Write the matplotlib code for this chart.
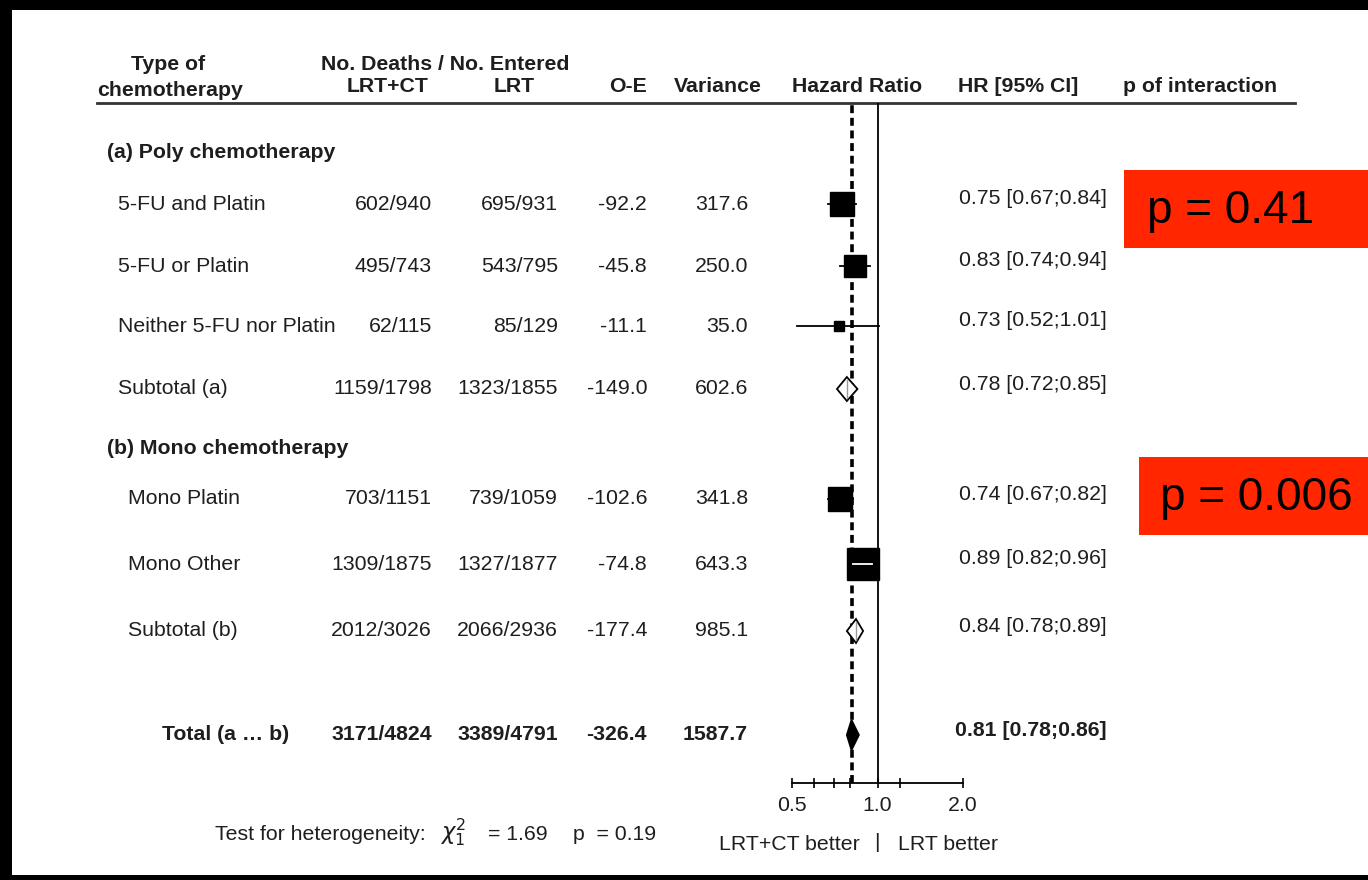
import numpy as np
import matplotlib
matplotlib.use('Agg')
import matplotlib.pyplot as plt
from matplotlib.patches import Rectangle, Polygon
from matplotlib.ticker import FixedLocator, NullFormatter

plt.rcParams['font.family'] = ['Liberation Sans', 'DejaVu Sans']

# table data
labels = ['5-FU and Platin', '5-FU or Platin', 'Neither 5-FU nor Platin', 'Subtotal (a)',
          'Mono Platin', 'Mono Other', 'Subtotal (b)', 'Total (a \u2026 b)']
group = ['a', 'a', 'a', 'a', 'b', 'b', 'b', 'total']
kind = ['box', 'box', 'box', 'sub', 'box', 'box', 'sub', 'total']
lrtct = ['602/940', '495/743', '62/115', '1159/1798', '703/1151', '1309/1875', '2012/3026', '3171/4824']
lrt = ['695/931', '543/795', '85/129', '1323/1855', '739/1059', '1327/1877', '2066/2936', '3389/4791']
oe = [-92.2, -45.8, -11.1, -149.0, -102.6, -74.8, -177.4, -326.4]
variance = [317.6, 250.0, 35.0, 602.6, 341.8, 643.3, 985.1, 1587.7]
hr = [0.75, 0.83, 0.73, 0.78, 0.74, 0.89, 0.84, 0.81]
hr_lo = [0.67, 0.74, 0.52, 0.72, 0.67, 0.82, 0.78, 0.78]
hr_hi = [0.84, 0.94, 1.01, 0.85, 0.82, 0.96, 0.89, 0.86]
group_titles = ['(a) Poly chemotherapy', '(b) Mono chemotherapy']
p_interaction = ['p = 0.41', 'p = 0.006']
chi2 = 1.69
p_het = 0.19

# layout (pixels)
row_y = [204, 266, 326, 389, 499, 564, 631, 735]
group_y = [152, 449]
fs = 15.3
tc = '#1e1e1e'

fig = plt.figure(figsize=(13.68, 8.8), dpi=100, facecolor='black')
bg = fig.add_axes([0, 0, 1, 1])
bg.set_xlim(0, 1368)
bg.set_ylim(880, 0)
bg.axis('off')
bg.add_patch(Rectangle((12, 10), 1356, 865, facecolor='white', edgecolor='none'))

# headers
hy1, hy2 = 64, 87
bg.text(168, hy1, 'Type of', ha='center', va='center', fontsize=fs, fontweight='bold', color=tc)
bg.text(170, hy2 + 3, 'chemotherapy', ha='center', va='center', fontsize=fs, fontweight='bold', color=tc)
bg.text(445, hy1, 'No. Deaths / No. Entered', ha='center', va='center', fontsize=fs, fontweight='bold', color=tc)
bg.text(388, hy2, 'LRT+CT', ha='center', va='center', fontsize=fs, fontweight='bold', color=tc)
bg.text(514, hy2, 'LRT', ha='center', va='center', fontsize=fs, fontweight='bold', color=tc)
bg.text(628, hy2, 'O-E', ha='center', va='center', fontsize=fs, fontweight='bold', color=tc)
bg.text(718, hy2, 'Variance', ha='center', va='center', fontsize=fs, fontweight='bold', color=tc)
bg.text(857, hy2, 'Hazard Ratio', ha='center', va='center', fontsize=fs, fontweight='bold', color=tc)
bg.text(1018, hy2, 'HR [95% CI]', ha='center', va='center', fontsize=fs, fontweight='bold', color=tc)
bg.text(1200, hy2, 'p of interaction', ha='center', va='center', fontsize=fs, fontweight='bold', color=tc)
bg.plot([97, 1295], [103, 103], color='#333333', lw=2)

for t, y in zip(group_titles, group_y):
    bg.text(107, y, t, ha='left', va='center', fontsize=fs, fontweight='bold', color=tc)

for i in range(len(labels)):
    y = row_y[i]
    w = 'bold' if kind[i] == 'total' else 'normal'
    if group[i] == 'a':
        bg.text(118, y, labels[i], ha='left', va='center', fontsize=fs, color=tc)
    elif group[i] == 'b':
        bg.text(128, y, labels[i], ha='left', va='center', fontsize=fs, color=tc)
    else:
        bg.text(226, y, labels[i], ha='center', va='center', fontsize=fs, fontweight='bold', color=tc)
    bg.text(432, y, lrtct[i], ha='right', va='center', fontsize=fs, fontweight=w, color=tc)
    bg.text(558, y, lrt[i], ha='right', va='center', fontsize=fs, fontweight=w, color=tc)
    bg.text(647, y, '%.1f' % oe[i], ha='right', va='center', fontsize=fs, fontweight=w, color=tc)
    bg.text(748, y, '%.1f' % variance[i], ha='right', va='center', fontsize=fs, fontweight=w, color=tc)
    bg.text(1107, y - 5, '%.2f [%.2f;%.2f]' % (hr[i], hr_lo[i], hr_hi[i]), ha='right', va='center',
            fontsize=fs, fontweight=w, color=tc)

# red interaction boxes
bg.add_patch(Rectangle((1124, 170), 244, 78, facecolor='#ff2600', edgecolor='none'))
bg.text(1147, 211, p_interaction[0], ha='left', va='center', fontsize=33, color='black')
bg.add_patch(Rectangle((1139, 457), 229, 78, facecolor='#ff2600', edgecolor='none'))
bg.text(1160, 498, p_interaction[1], ha='left', va='center', fontsize=33, color='black')

# heterogeneity test
bg.text(215, 835, 'Test for heterogeneity:', ha='left', va='center', fontsize=fs, color=tc)
bg.text(440, 832, r'$\chi^2_1$', ha='left', va='center', fontsize=fs + 1, color=tc)
bg.text(488, 835, '= %.2f' % chi2, ha='left', va='center', fontsize=fs, color=tc)
bg.text(573, 835, 'p  = %.2f' % p_het, ha='left', va='center', fontsize=fs, color=tc)
bg.text(860, 845, 'LRT+CT better', ha='right', va='center', fontsize=fs, color=tc)
bg.text(877, 843, '|', ha='center', va='center', fontsize=fs, color=tc)
bg.text(898, 845, 'LRT better', ha='left', va='center', fontsize=fs, color=tc)

# forest axes: x 0.5..2.0 maps to px 792..963, y in pixel rows 103..783
ax = fig.add_axes([792 / 1368, (880 - 783) / 880, (963 - 792) / 1368, 680 / 880])
ax.set_facecolor('none')
ax.set_xscale('log')
ax.set_xlim(0.5, 2.0)
ax.set_ylim(783, 103)
for s in ['top', 'left', 'right']:
    ax.spines[s].set_visible(False)
ax.spines['bottom'].set_linewidth(1.3)
ax.xaxis.set_major_locator(FixedLocator([0.5, 1.0, 2.0]))
ax.xaxis.set_minor_locator(FixedLocator([0.6, 0.7, 0.8, 1.2]))
ax.xaxis.set_minor_formatter(NullFormatter())
ax.set_xticklabels(['0.5', '1.0', '2.0'])
ax.tick_params(axis='x', which='both', direction='inout', length=7, width=1.2, labelsize=fs,
               labelcolor=tc, pad=6)
ax.set_yticks([])

ax.axvline(1.0, color='black', lw=1.3, zorder=1)
ax.axvline(hr[-1], color='black', lw=2.6, ls=(0, (2.2, 1.3)), zorder=1)

px_per_log2 = (963 - 792) / 2.0
for i in range(len(hr)):
    y = row_y[i]
    if kind[i] == 'box':
        side = 4.5 + 1.05 * np.sqrt(variance[i])
        ax.plot([hr_lo[i], hr_hi[i]], [y, y], color='black', lw=1.3, zorder=2)
        ax.plot(hr[i], y, marker='s', ms=side * 0.72, color='black', mec='black', zorder=3)
        ci_px = px_per_log2 * np.log2(hr_hi[i] / hr_lo[i])
        if ci_px < side:
            ax.plot([hr_lo[i], hr_hi[i]], [y, y], color='white', lw=1.3, zorder=4)
    else:
        h = 30 if kind[i] == 'total' else 24
        fc = 'black' if kind[i] == 'total' else 'white'
        ax.add_patch(Polygon([[hr_lo[i], y], [hr[i], y - h / 2], [hr_hi[i], y], [hr[i], y + h / 2]],
                             closed=True, facecolor=fc, edgecolor='black', lw=1.3, zorder=3))
        if kind[i] == 'sub':
            ax.plot([hr[i], hr[i]], [y - h / 2 + 3, y + h / 2 - 3], color='#999999', lw=1, zorder=4)

fig.savefig('out.png', dpi=100, facecolor='black')
